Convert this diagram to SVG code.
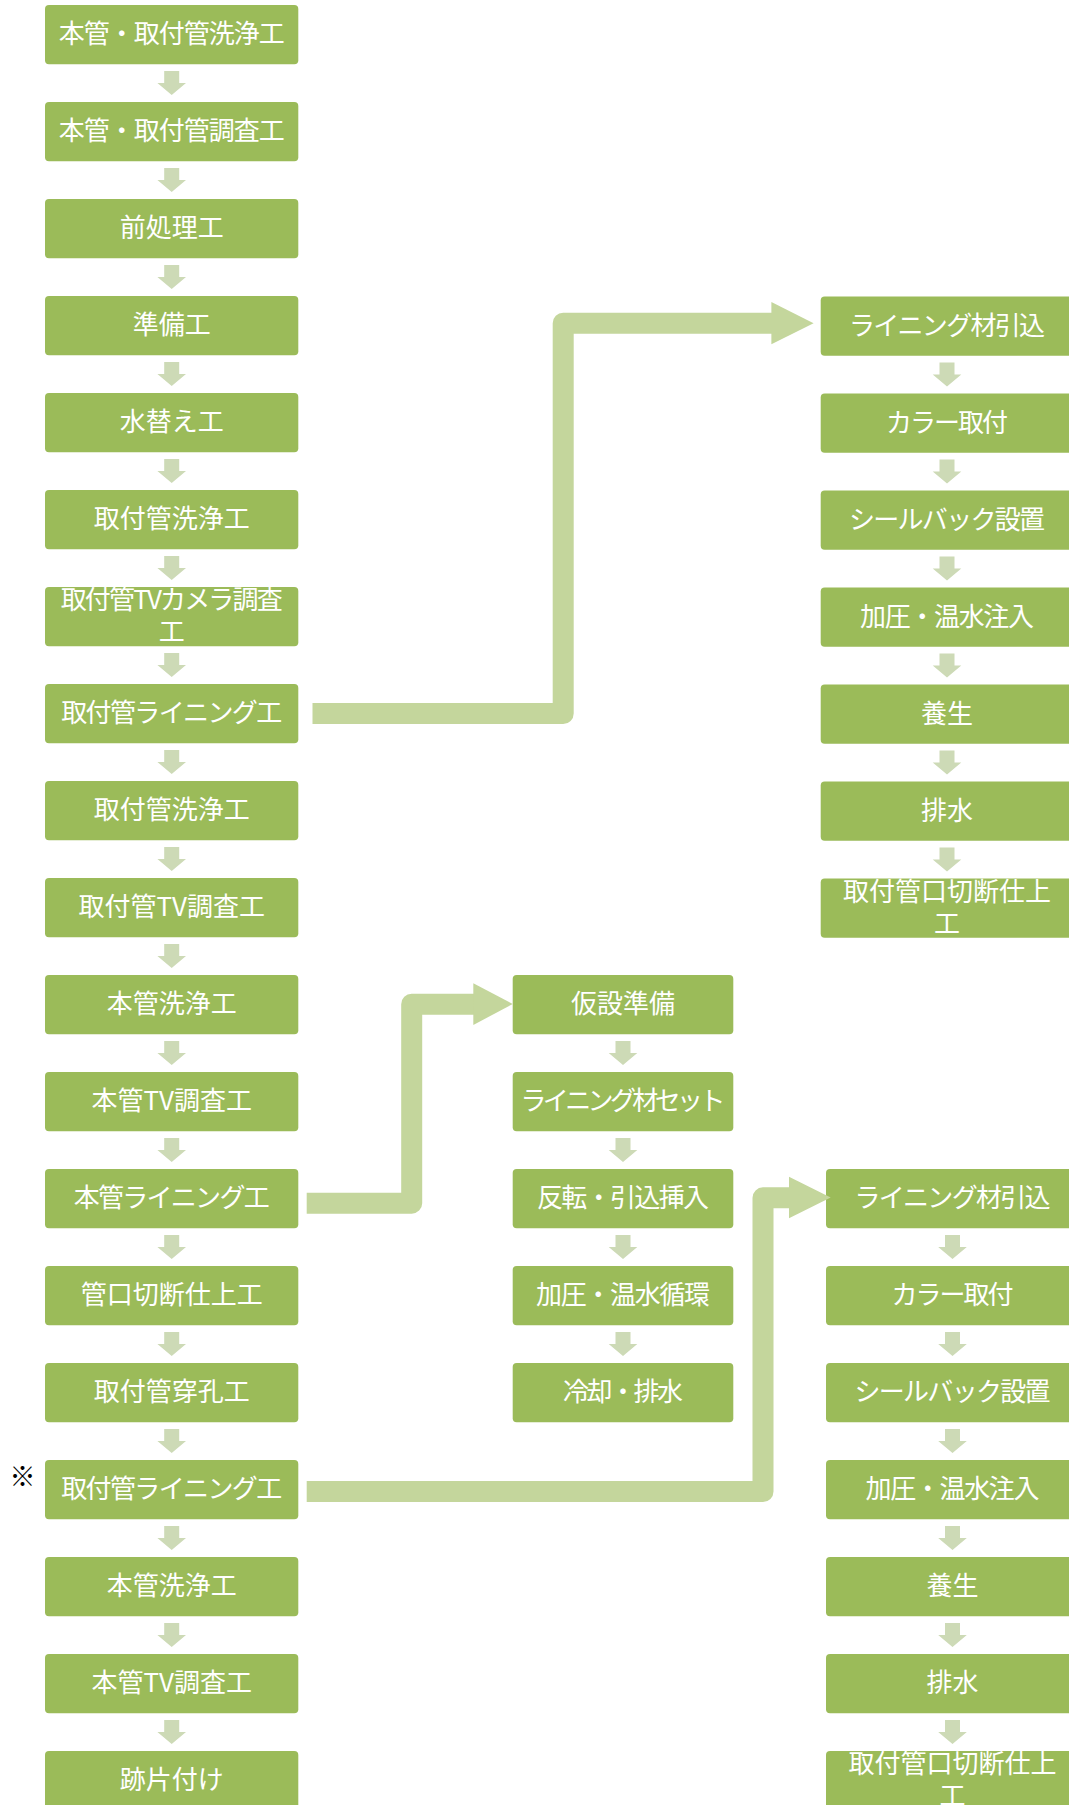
<svg xmlns="http://www.w3.org/2000/svg" xmlns:xlink="http://www.w3.org/1999/xlink" width="1069" height="1805" viewBox="0 0 1069 1805">
<style>
.box{fill:#9BBB59}
.t{font-family:"Noto Sans CJK JP","Noto Sans",sans-serif;font-size:26px;fill:#FFFFFF;text-anchor:middle}
.conn{fill:none;stroke:#C4D69C;stroke-width:21;stroke-linejoin:round}
.head{fill:#C4D69C}
.da{fill:#CDDAB6}
.mark{font-family:"Noto Sans CJK JP",sans-serif;font-size:26px;fill:#000000;text-anchor:middle}
</style>
<defs>
<path id="da" d="M-7.5,0 H7.5 V12 H14.3 L0,24 L-14.3,12 H-7.5 Z"/>
</defs>
<rect width="1069" height="1805" fill="#FFFFFF"/>

<g id="down-arrows" class="da">
<use xlink:href="#da" x="171.7" y="71"/>
<use xlink:href="#da" x="171.7" y="168"/>
<use xlink:href="#da" x="171.7" y="265"/>
<use xlink:href="#da" x="171.7" y="362"/>
<use xlink:href="#da" x="171.7" y="459"/>
<use xlink:href="#da" x="171.7" y="556"/>
<use xlink:href="#da" x="171.7" y="653"/>
<use xlink:href="#da" x="171.7" y="750"/>
<use xlink:href="#da" x="171.7" y="847"/>
<use xlink:href="#da" x="171.7" y="944"/>
<use xlink:href="#da" x="171.7" y="1041"/>
<use xlink:href="#da" x="171.7" y="1138"/>
<use xlink:href="#da" x="171.7" y="1235"/>
<use xlink:href="#da" x="171.7" y="1332"/>
<use xlink:href="#da" x="171.7" y="1429"/>
<use xlink:href="#da" x="171.7" y="1526"/>
<use xlink:href="#da" x="171.7" y="1623"/>
<use xlink:href="#da" x="171.7" y="1720"/>
<use xlink:href="#da" x="947" y="362.5"/>
<use xlink:href="#da" x="947" y="459.5"/>
<use xlink:href="#da" x="947" y="556.5"/>
<use xlink:href="#da" x="947" y="653.5"/>
<use xlink:href="#da" x="947" y="750.5"/>
<use xlink:href="#da" x="947" y="847.5"/>
<use xlink:href="#da" x="623" y="1041"/>
<use xlink:href="#da" x="623" y="1138"/>
<use xlink:href="#da" x="623" y="1235"/>
<use xlink:href="#da" x="623" y="1332"/>
<use xlink:href="#da" x="952.5" y="1235"/>
<use xlink:href="#da" x="952.5" y="1332"/>
<use xlink:href="#da" x="952.5" y="1429"/>
<use xlink:href="#da" x="952.5" y="1526"/>
<use xlink:href="#da" x="952.5" y="1623"/>
<use xlink:href="#da" x="952.5" y="1720"/>
</g>

<g id="L0"><rect class="box" x="45" y="5" width="253.3" height="59.3" rx="4"/><text class="t" x="171.7" y="43" textLength="226">本管・取付管洗浄工</text></g>
<g id="L1"><rect class="box" x="45" y="102" width="253.3" height="59.3" rx="4"/><text class="t" x="171.7" y="140" textLength="226">本管・取付管調査工</text></g>
<g id="L2"><rect class="box" x="45" y="199" width="253.3" height="59.3" rx="4"/><text class="t" x="171.7" y="237">前処理工</text></g>
<g id="L3"><rect class="box" x="45" y="296" width="253.3" height="59.3" rx="4"/><text class="t" x="171.7" y="334">準備工</text></g>
<g id="L4"><rect class="box" x="45" y="393" width="253.3" height="59.3" rx="4"/><text class="t" x="171.7" y="431">水替え工</text></g>
<g id="L5"><rect class="box" x="45" y="490" width="253.3" height="59.3" rx="4"/><text class="t" x="171.7" y="528">取付管洗浄工</text></g>
<g id="L6"><rect class="box" x="45" y="587" width="253.3" height="59.3" rx="4"/><text class="t"><tspan x="171.7" y="609" textLength="222">取付管TVカメラ調査</tspan><tspan x="171.7" y="641">工</tspan></text></g>
<g id="L7"><rect class="box" x="45" y="684" width="253.3" height="59.3" rx="4"/><text class="t" x="171.7" y="722" textLength="221">取付管ライニング工</text></g>
<g id="L8"><rect class="box" x="45" y="781" width="253.3" height="59.3" rx="4"/><text class="t" x="171.7" y="819">取付管洗浄工</text></g>
<g id="L9"><rect class="box" x="45" y="878" width="253.3" height="59.3" rx="4"/><text class="t" x="171.7" y="916">取付管TV調査工</text></g>
<g id="L10"><rect class="box" x="45" y="975" width="253.3" height="59.3" rx="4"/><text class="t" x="171.7" y="1013">本管洗浄工</text></g>
<g id="L11"><rect class="box" x="45" y="1072" width="253.3" height="59.3" rx="4"/><text class="t" x="171.7" y="1110">本管TV調査工</text></g>
<g id="L12"><rect class="box" x="45" y="1169" width="253.3" height="59.3" rx="4"/><text class="t" x="171.7" y="1207" textLength="196">本管ライニング工</text></g>
<g id="L13"><rect class="box" x="45" y="1266" width="253.3" height="59.3" rx="4"/><text class="t" x="171.7" y="1304">管口切断仕上工</text></g>
<g id="L14"><rect class="box" x="45" y="1363" width="253.3" height="59.3" rx="4"/><text class="t" x="171.7" y="1401">取付管穿孔工</text></g>
<g id="L15"><rect class="box" x="45" y="1460" width="253.3" height="59.3" rx="4"/><text class="t" x="171.7" y="1498" textLength="221">取付管ライニング工</text></g>
<g id="L16"><rect class="box" x="45" y="1557" width="253.3" height="59.3" rx="4"/><text class="t" x="171.7" y="1595">本管洗浄工</text></g>
<g id="L17"><rect class="box" x="45" y="1654" width="253.3" height="59.3" rx="4"/><text class="t" x="171.7" y="1692">本管TV調査工</text></g>
<g id="L18"><rect class="box" x="45" y="1751" width="253.3" height="59.3" rx="4"/><text class="t" x="171.7" y="1789">跡片付け</text></g>

<g id="note"><text class="mark" x="22.5" y="1485.5">※</text></g>

<g id="R0"><rect class="box" x="820.7" y="296.5" width="253" height="59.3" rx="4"/><text class="t" x="947" y="334.5" textLength="196">ライニング材引込</text></g>
<g id="R1"><rect class="box" x="820.7" y="393.5" width="253" height="59.3" rx="4"/><text class="t" x="947" y="431.5" textLength="122">カラー取付</text></g>
<g id="R2"><rect class="box" x="820.7" y="490.5" width="253" height="59.3" rx="4"/><text class="t" x="947" y="528.5" textLength="196">シールバック設置</text></g>
<g id="R3"><rect class="box" x="820.7" y="587.5" width="253" height="59.3" rx="4"/><text class="t" x="947" y="625.5" textLength="174">加圧・温水注入</text></g>
<g id="R4"><rect class="box" x="820.7" y="684.5" width="253" height="59.3" rx="4"/><text class="t" x="947" y="722.5">養生</text></g>
<g id="R5"><rect class="box" x="820.7" y="781.5" width="253" height="59.3" rx="4"/><text class="t" x="947" y="819.5">排水</text></g>
<g id="R6"><rect class="box" x="820.7" y="878.5" width="253" height="59.3" rx="4"/><text class="t"><tspan x="947" y="900.5">取付管口切断仕上</tspan><tspan x="947" y="932.5">工</tspan></text></g>

<g id="M0"><rect class="box" x="512.7" y="975" width="220.6" height="59.3" rx="4"/><text class="t" x="623" y="1013">仮設準備</text></g>
<g id="M1"><rect class="box" x="512.7" y="1072" width="220.6" height="59.3" rx="4"/><text class="t" x="623" y="1110" textLength="205">ライニング材セット</text></g>
<g id="M2"><rect class="box" x="512.7" y="1169" width="220.6" height="59.3" rx="4"/><text class="t" x="623" y="1207" textLength="172">反転・引込挿入</text></g>
<g id="M3"><rect class="box" x="512.7" y="1266" width="220.6" height="59.3" rx="4"/><text class="t" x="623" y="1304" textLength="174">加圧・温水循環</text></g>
<g id="M4"><rect class="box" x="512.7" y="1363" width="220.6" height="59.3" rx="4"/><text class="t" x="623" y="1401" textLength="120">冷却・排水</text></g>

<g id="S0"><rect class="box" x="826" y="1169" width="253" height="59.3" rx="4"/><text class="t" x="952.5" y="1207" textLength="196">ライニング材引込</text></g>
<g id="S1"><rect class="box" x="826" y="1266" width="253" height="59.3" rx="4"/><text class="t" x="952.5" y="1304" textLength="122">カラー取付</text></g>
<g id="S2"><rect class="box" x="826" y="1363" width="253" height="59.3" rx="4"/><text class="t" x="952.5" y="1401" textLength="196">シールバック設置</text></g>
<g id="S3"><rect class="box" x="826" y="1460" width="253" height="59.3" rx="4"/><text class="t" x="952.5" y="1498" textLength="174">加圧・温水注入</text></g>
<g id="S4"><rect class="box" x="826" y="1557" width="253" height="59.3" rx="4"/><text class="t" x="952.5" y="1595">養生</text></g>
<g id="S5"><rect class="box" x="826" y="1654" width="253" height="59.3" rx="4"/><text class="t" x="952.5" y="1692">排水</text></g>
<g id="S6"><rect class="box" x="826" y="1751" width="253" height="59.3" rx="4"/><text class="t"><tspan x="952.5" y="1773">取付管口切断仕上</tspan><tspan x="952.5" y="1805">工</tspan></text></g>

<g id="connectors">
<path class="conn" d="M312.5,713.5 H563.2 V323.2 H772.4"/>
<polygon class="head" points="771.4,302 813.6,323.3 771.4,344.3"/>
<path class="conn" d="M306.7,1203.2 H411.7 V1004.2 H474.3"/>
<polygon class="head" points="473.3,983.3 512.7,1004 473.3,1025"/>
<path class="conn" d="M306.7,1491.5 H763 V1197.8 H790"/>
<polygon class="head" points="789,1176.7 830.7,1197.5 789,1218.3"/>
</g>
</svg>
